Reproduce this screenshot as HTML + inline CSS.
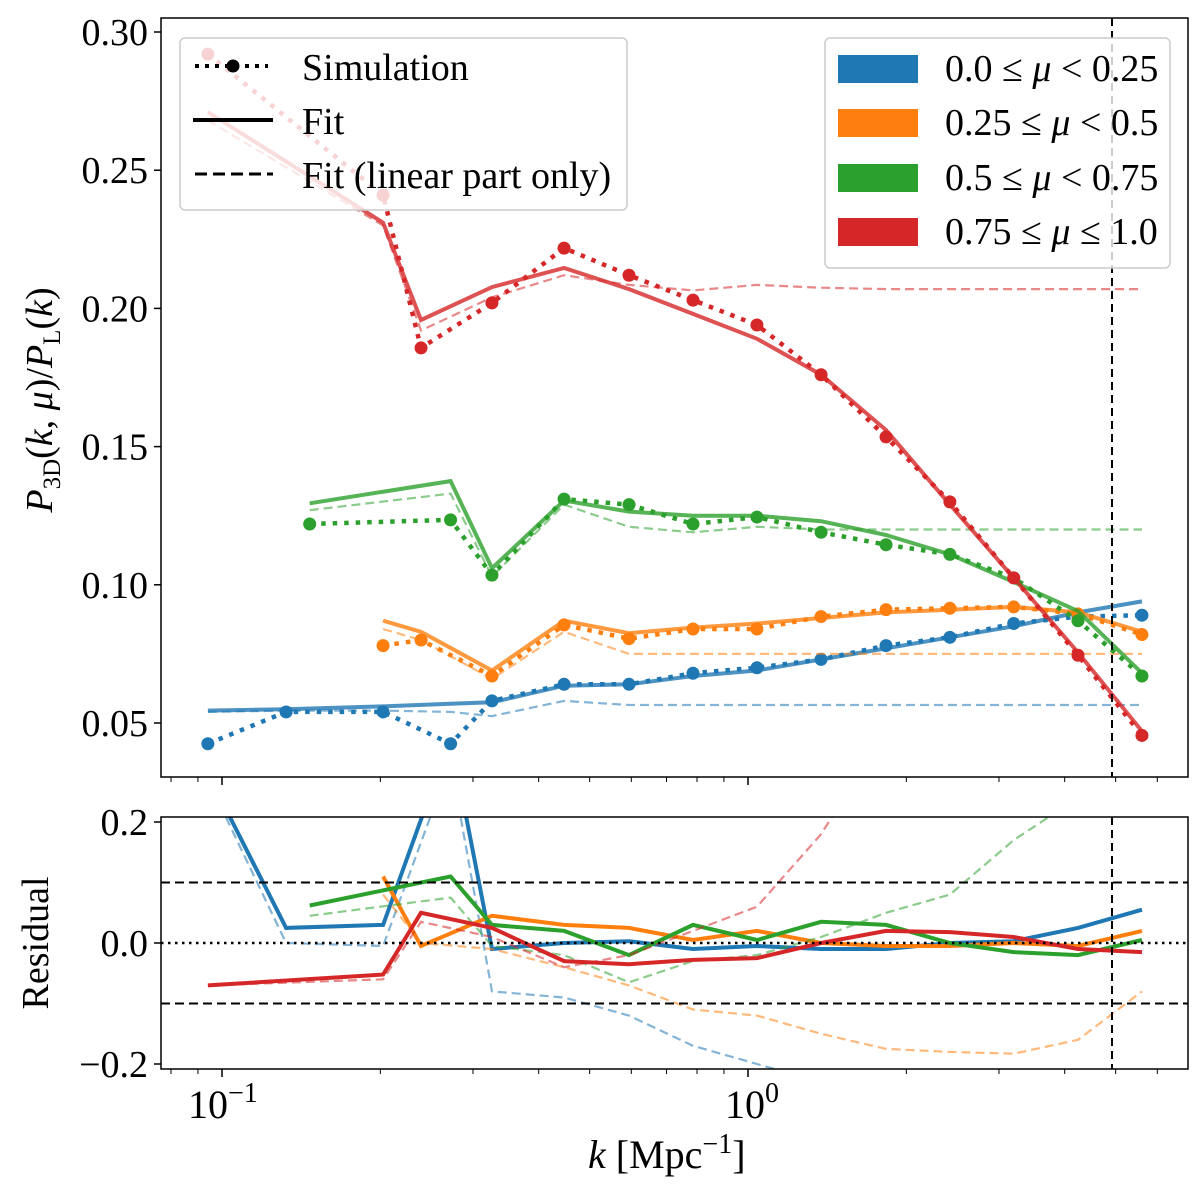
<!DOCTYPE html>
<html><head><meta charset="utf-8"><style>
body{margin:0;background:#fff}
svg text{font-family:"Liberation Serif",serif;fill:#000}
</style></head><body>
<svg id="chart" width="1200" height="1180" viewBox="0 0 1200 1180" xmlns="http://www.w3.org/2000/svg">
<defs>
<clipPath id="clipTop"><rect x="161" y="18" width="1027" height="759"/></clipPath>
<clipPath id="clipBot"><rect x="161" y="817" width="1027" height="252"/></clipPath>
</defs>
<g id="topPanel"></g>
<g id="botPanel"></g>
</svg>
<script>
const kVals=[0.094,0.1324,0.1468,0.2024,0.239,0.272,0.326,0.447,0.594,0.786,1.04,1.377,1.83,2.42,3.2,4.24,5.61];
const muLabels=["0.0 ≤ μ < 0.25","0.25 ≤ μ < 0.5","0.5 ≤ μ < 0.75","0.75 ≤ μ ≤ 1.0"];
const colors=["#1f77b4","#ff7f0e","#2ca02c","#d62728"];
const N=null;
const simBlue  =[0.0425,0.054,N,0.054,N,0.0425,0.058,0.064,0.064,0.068,0.070,0.073,0.078,0.081,0.086,0.0885,0.089];
const simOrange=[N,N,N,0.078,0.080,N,0.067,0.0855,0.0805,0.084,0.084,0.0885,0.091,0.0915,0.092,0.0895,0.082];
const simGreen =[N,N,0.122,N,N,0.1235,0.1035,0.131,0.129,0.122,0.1245,0.119,0.1145,0.111,0.1025,0.087,0.067];
const simRed   =[0.292,N,N,0.241,0.1857,N,0.202,0.2218,0.212,0.203,0.194,0.176,0.1535,0.130,0.1025,0.0745,0.0455];
const fitBlue  =[0.0545,0.055,N,0.056,N,0.057,0.0575,0.0635,0.064,0.067,0.069,0.073,0.077,0.081,0.085,0.090,0.094];
const fitOrange=[N,N,N,0.087,0.083,N,0.069,0.087,0.0825,0.0845,0.086,0.088,0.090,0.091,0.092,0.090,0.083];
const fitGreen =[N,N,0.1295,N,N,0.1375,0.106,0.1305,0.1265,0.125,0.125,0.123,0.118,0.111,0.101,0.0905,0.068];
const fitRed   =[0.271,N,N,0.231,0.1958,N,0.2077,0.2146,0.207,0.198,0.189,0.176,0.156,0.129,0.1025,0.0755,0.047];
const linBlue  =[0.054,0.0545,N,0.0545,N,0.054,0.0525,0.058,0.0565,0.0565,0.0565,0.0565,0.0565,0.0565,0.0565,0.0565,0.0565];
const linOrange=[N,N,N,0.084,0.080,N,0.066,0.083,0.075,0.075,0.075,0.075,0.075,0.075,0.075,0.075,0.075];
const linGreen =[N,N,0.127,N,N,0.133,0.103,0.129,0.121,0.119,0.121,0.120,0.120,0.120,0.120,0.120,0.120];
const linRed   =[0.268,N,N,0.230,0.192,N,0.204,0.212,0.2085,0.2065,0.2085,0.2075,0.207,0.207,0.207,0.207,0.207];
const resBlue  =[0.28,0.025,N,0.03,N,0.34,-0.01,0.0,0.003,-0.01,-0.005,-0.01,-0.01,0.0,0.003,0.025,0.055];
const resOrange=[N,N,N,0.11,-0.005,N,0.045,0.03,0.025,0.005,0.02,0.0,-0.005,-0.005,0.0,-0.005,0.02];
const resGreen =[N,N,0.062,N,N,0.11,0.03,0.02,-0.02,0.03,0.005,0.035,0.03,0.0,-0.015,-0.02,0.005];
const resRed   =[-0.07,N,N,-0.052,0.05,N,0.025,-0.03,-0.035,-0.028,-0.025,0.0,0.02,0.018,0.01,-0.01,-0.015];
const rlBlue   =[0.27,0.0,N,-0.005,N,0.3,-0.08,-0.09,-0.12,-0.17,-0.2,-0.23,-0.26,-0.3,-0.32,-0.35,-0.37];
const rlOrange =[N,N,N,0.08,0.0,N,-0.01,-0.04,-0.07,-0.11,-0.12,-0.15,-0.175,-0.18,-0.183,-0.16,-0.08];
const rlGreen  =[N,N,0.045,N,N,0.075,-0.005,-0.02,-0.065,-0.03,-0.02,0.01,0.05,0.08,0.17,0.24,0.3];
const rlRed    =[-0.07,N,N,-0.06,0.035,N,0.01,-0.04,-0.02,0.02,0.06,0.18,0.35,0.5,0.6,0.7,0.8];
const yTicksTop=[0.05,0.10,0.15,0.20,0.25,0.30];
const yTicksBot=[-0.2,0.0,0.2];

const X=k=>222+526*Math.log10(k/0.1);
const YT=v=>723-(v-0.05)*2764;
const YB=v=>943-v*605;
const NS="http://www.w3.org/2000/svg";
function mk(tag,attrs,parent){const e=document.createElementNS(NS,tag);for(const a in attrs)e.setAttribute(a,attrs[a]);parent.appendChild(e);return e;}
const topG=document.getElementById('topPanel'), botG=document.getElementById('botPanel');
function pts(arr,Y){const p=[];arr.forEach((v,i)=>{if(v!==null)p.push(X(kVals[i]).toFixed(1)+','+Y(v).toFixed(1));});return p.join(' ');}

const gT=mk('g',{'clip-path':'url(#clipTop)'},topG);
const gB=mk('g',{'clip-path':'url(#clipBot)'},botG);
const names=['blue','orange','green','red'];
const sims=[simBlue,simOrange,simGreen,simRed],fits=[fitBlue,fitOrange,fitGreen,fitRed],lins=[linBlue,linOrange,linGreen,linRed];
const ress=[resBlue,resOrange,resGreen,resRed],rls=[rlBlue,rlOrange,rlGreen,rlRed];

let e=mk('line',{x1:1112,x2:1112,y1:18,y2:777,stroke:'#000','stroke-width':2,'stroke-dasharray':'8,5'},topG);


e=mk('line',{x1:1112,x2:1112,y1:817,y2:1069,stroke:'#000','stroke-width':2,'stroke-dasharray':'8,5'},botG);


[0.1,-0.1].forEach(v=>{const l=mk('line',{x1:161,x2:1188,y1:YB(v),y2:YB(v),stroke:'#000','stroke-width':2,'stroke-dasharray':'9,5'},botG);

});
e=mk('line',{x1:161,x2:1188,y1:YB(0),y2:YB(0),stroke:'#000','stroke-width':2.5,'stroke-dasharray':'2.5,4.5'},botG);



for(let s=0;s<4;s++){
  const c=colors[s];
  let l=mk('polyline',{points:pts(lins[s],YT),fill:'none',stroke:c,'stroke-width':2.2,'stroke-opacity':0.55,'stroke-dasharray':'9,5'},gT);
  
  
  l=mk('polyline',{points:pts(fits[s],YT),fill:'none',stroke:c,'stroke-width':4,'stroke-opacity':0.8},gT);
  
  
  l=mk('polyline',{points:pts(sims[s],YT),fill:'none',stroke:c,'stroke-width':4.5,'stroke-dasharray':'4.5,7'},gT);
  
  
  sims[s].forEach((v,i)=>{if(v===null)return;const d=mk('circle',{cx:X(kVals[i]),cy:YT(v),r:6.5,fill:c},gT);
  
  });
  l=mk('polyline',{points:pts(rls[s],YB),fill:'none',stroke:c,'stroke-width':2.2,'stroke-opacity':0.55,'stroke-dasharray':'9,5'},gB);
  
  
  l=mk('polyline',{points:pts(ress[s],YB),fill:'none',stroke:c,'stroke-width':4},gB);
  
  
}

e=mk('rect',{x:161,y:18,width:1027,height:759,fill:'none',stroke:'#000','stroke-width':1.5},topG);


e=mk('rect',{x:161,y:817,width:1027,height:252,fill:'none',stroke:'#000','stroke-width':1.5},botG);



yTicksTop.forEach(v=>{const y=YT(v);mk('line',{x1:154,x2:161,y1:y,y2:y,stroke:'#000','stroke-width':1.5},topG);
const t=mk('text',{x:148,y:y+13,'text-anchor':'end','font-size':38},topG);t.textContent=v.toFixed(2);

});
yTicksBot.forEach(v=>{const y=YB(v);mk('line',{x1:154,x2:161,y1:y,y2:y,stroke:'#000','stroke-width':1.5},botG);
const t=mk('text',{x:148,y:y+13,'text-anchor':'end','font-size':38},botG);t.textContent=(v<0?'−':'')+Math.abs(v).toFixed(1);

});
[0.1,1].forEach(k=>{const x=X(k);mk('line',{x1:x,x2:x,y1:777,y2:785,stroke:'#000','stroke-width':1.5},topG);mk('line',{x1:x,x2:x,y1:1069,y2:1077,stroke:'#000','stroke-width':1.5},botG);});
[0.08,0.09,0.2,0.3,0.4,0.5,0.6,0.7,0.8,0.9,2,3,4,5,6].forEach(k=>{const x=X(k);mk('line',{x1:x,x2:x,y1:777,y2:782,stroke:'#000','stroke-width':1},topG);mk('line',{x1:x,x2:x,y1:1069,y2:1074,stroke:'#000','stroke-width':1},botG);});
</script>
<svg style="position:absolute;left:0;top:0" width="1200" height="1180">
<text x="188" y="1118" font-size="40">10<tspan dy="-16" font-size="28">−1</tspan></text>
<text x="725" y="1118" font-size="40">10<tspan dy="-16" font-size="28">0</tspan></text>
<text x="588" y="1168" font-size="40"><tspan font-style="italic">k</tspan> [Mpc<tspan dy="-15" font-size="28">−1</tspan><tspan dy="15">]</tspan></text>
<text transform="translate(52,400) rotate(-90)" text-anchor="middle" font-size="38"><tspan font-style="italic">P</tspan><tspan font-size="25" dy="8">3D</tspan><tspan dy="-8">(</tspan><tspan font-style="italic">k</tspan>, <tspan font-style="italic">μ</tspan>)/<tspan font-style="italic">P</tspan><tspan font-size="25" dy="8">L</tspan><tspan dy="-8">(</tspan><tspan font-style="italic">k</tspan>)</text>
<text transform="translate(48,943) rotate(-90)" text-anchor="middle" font-size="38">Residual</text>
<g>
<rect x="180" y="38" width="447" height="172" rx="5" fill="#fff" fill-opacity="0.8" stroke="#ccc" stroke-width="1.5"/>
<line x1="195" x2="268" y1="66" y2="66" stroke="#000" stroke-width="4" stroke-dasharray="4,6"/>
<circle cx="233" cy="66" r="6.5" fill="#000"/>
<text x="302" y="80" font-size="38">Simulation</text>
<line x1="193" x2="273" y1="120" y2="120" stroke="#000" stroke-width="4"/>
<text x="302" y="134" font-size="38">Fit</text>
<line x1="195" x2="273" y1="174" y2="174" stroke="#000" stroke-width="3" stroke-dasharray="12,6"/>
<text x="302" y="188" font-size="38">Fit (linear part only)</text>
</g>
<g>
<rect x="825" y="38" width="345" height="230" rx="5" fill="#fff" fill-opacity="0.8" stroke="#ccc" stroke-width="1.5"/>
<rect x="838" y="55" width="80" height="28" fill="#1f77b4"/>
<text x="945" y="81" font-size="38">0.0 ≤ <tspan font-style="italic">μ</tspan> &lt; 0.25</text>
<rect x="838" y="109" width="80" height="28" fill="#ff7f0e"/>
<text x="945" y="135" font-size="38">0.25 ≤ <tspan font-style="italic">μ</tspan> &lt; 0.5</text>
<rect x="838" y="164" width="80" height="28" fill="#2ca02c"/>
<text x="945" y="190" font-size="38">0.5 ≤ <tspan font-style="italic">μ</tspan> &lt; 0.75</text>
<rect x="838" y="218" width="80" height="28" fill="#d62728"/>
<text x="945" y="244" font-size="38">0.75 ≤ <tspan font-style="italic">μ</tspan> ≤ 1.0</text>
</g>
</svg>
</body></html>
